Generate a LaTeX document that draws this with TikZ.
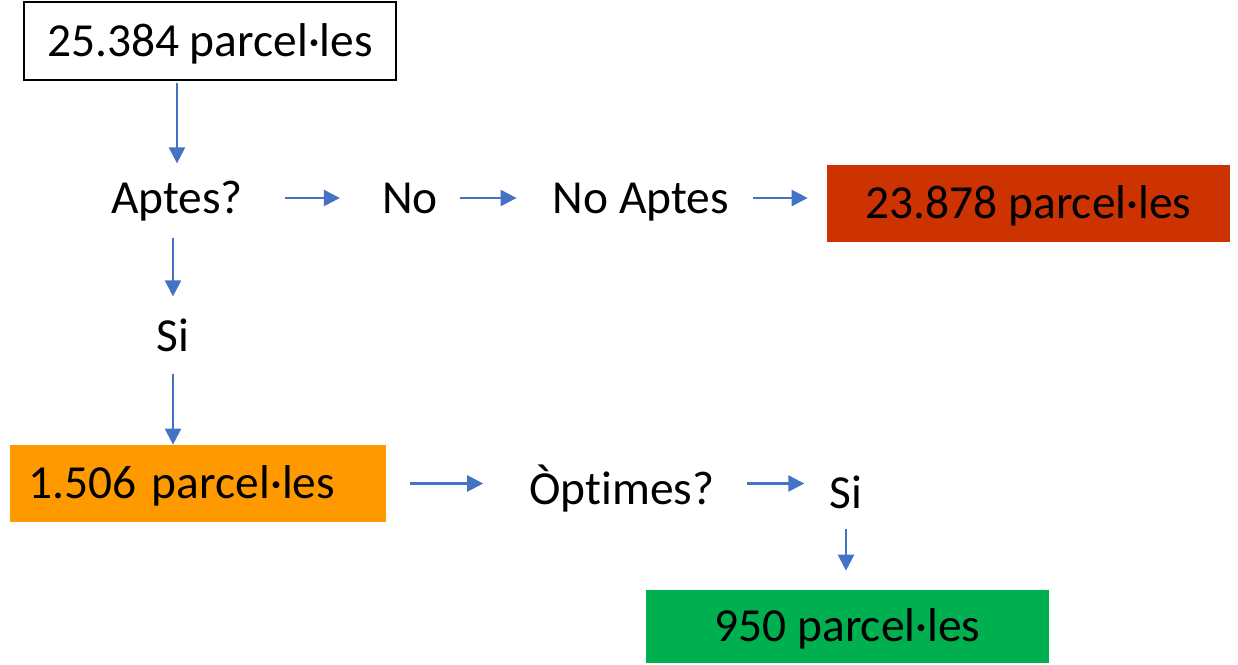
\documentclass[tikz,border=0pt]{standalone}
\usepackage{fontspec}
\setmainfont{Carlito}[RawFeature={-liga;-clig;-dlig}]
\usepackage{xcolor}
\usetikzlibrary{arrows.meta}
\definecolor{arrowblue}{HTML}{4472C4}
\definecolor{noaptred}{HTML}{CC3300}
\definecolor{aptorange}{HTML}{FF9900}
\definecolor{optgreen}{HTML}{00B050}
\tikzset{
  txt/.style={inner sep=0pt, text height=17.4pt, text depth=0pt,
    font=\fontsize{27}{32}\selectfont},
  lab/.style={txt},
  box/.style={txt, minimum height=1.54cm},
  arr/.style={draw=arrowblue, line width=1.3pt,
    -{Triangle[length=0.32cm, width=0.32cm]}},
}

\begin{document}
\begin{tikzpicture}[x=0.02cm, y=-0.02cm]
  \useasboundingbox (0,0) rectangle (1238,664);
  % boxes
  \node[box, draw=black, line width=1.1pt, minimum width=7.44cm,
    minimum height=1.56cm] (start) at (210,41) {25.384 parcel·les};
  \node[box, fill=noaptred, minimum width=8.06cm] (noapt) at (1028.5,203.5) {23.878 parcel·les};
  \node[box, fill=aptorange, text width=6.8cm, inner xsep=0.36cm, align=left]
    (apt) at (198,483.5) {1.506 parcel·les};
  \node[box, fill=optgreen, minimum width=8.06cm, minimum height=1.46cm]
    (opt) at (847.5,626.5) {950 parcel·les};
  % labels
  \node[lab] (q1) at (177,198) {Aptes?};
  \node[lab] (no) at (410,198) {No};
  \node[lab] (na) at (641,198) {No Aptes};
  \node[lab] (si1) at (173,336) {Si};
  \node[lab] (q2) at (622,489) {Òptimes?};
  \node[lab] (si2) at (846,493) {Si};
  % arrows
  \draw[arr, shorten <=0.04cm, shorten >=0.38cm] (start.south -| q1.north) -- (q1.north);
  \draw[arr, shorten <=0.84cm, shorten >=0.84cm] (q1.east) -- (no.west);
  \draw[arr, shorten <=0.44cm, shorten >=0.72cm] (no.east) -- (na.west);
  \draw[arr, shorten <=0.48cm, shorten >=0.38cm] (na.east) -- (na.east -| noapt.west);
  \draw[arr, shorten <=0.48cm, shorten >=0.48cm] (si1.north |- q1.south) -- (si1.north);
  \draw[arr, shorten <=0.44cm] (si1.south) -- (si1.south |- apt.north);
  \draw[arr, shorten <=0.48cm, shorten >=0.92cm] (apt.east) -- (apt.east -| q2.west);
  \draw[arr, shorten <=0.64cm, shorten >=0.5cm] (apt.east -| q2.east) -- (apt.east -| si2.west);
  \draw[arr, shorten <=0.4cm, shorten >=0.38cm] (si2.south) -- (si2.south |- opt.north);
\end{tikzpicture}
\end{document}
